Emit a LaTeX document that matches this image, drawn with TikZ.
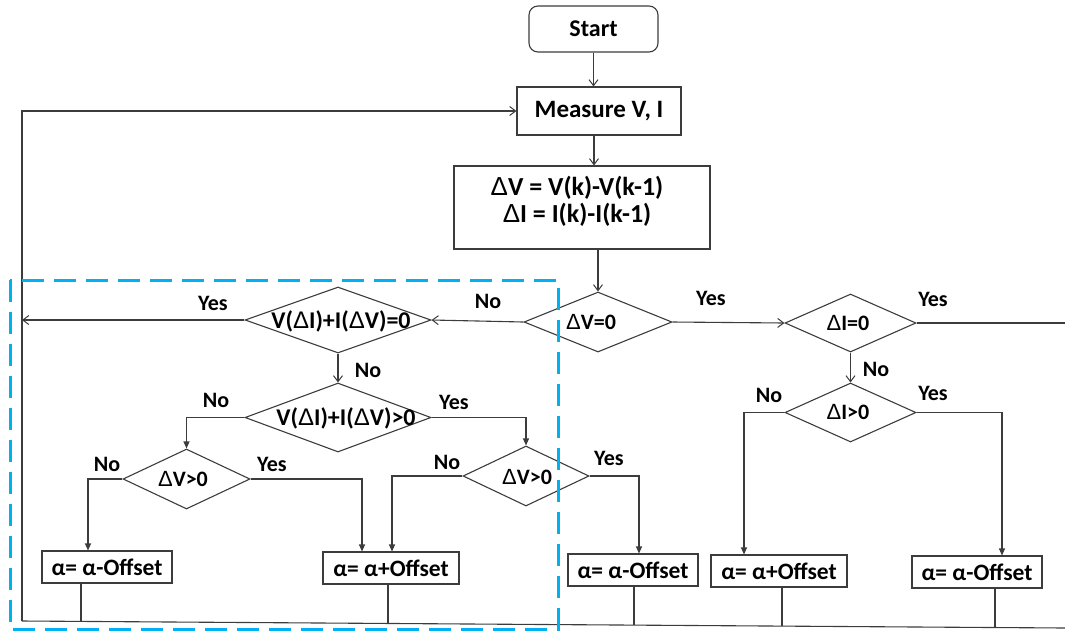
\documentclass[tikz,border=0pt]{standalone}
\usepackage{fontspec}
\setmainfont{Carlito}
\newfontfamily\libsans{Liberation Sans}
\usetikzlibrary{arrows.meta,shapes.geometric}
\newcommand\DLT{{\libsans\mdseries Δ}}
\definecolor{cyanline}{RGB}{0,176,240}
\definecolor{lncol}{RGB}{60,60,60}
\begin{document}
\begin{tikzpicture}[x=1pt,y=-1pt,
  line/.style={draw=lncol, line width=1.1pt},
  oarr/.style={line, -{Straight Barb[length=6pt,width=9pt,line width=1pt]}},
  farr/.style={line, -{Triangle[length=7pt,width=6pt]}},
  proc/.style={line, rectangle, inner sep=0pt},
  dec/.style={line, diamond, inner sep=0pt},
  txt/.style={inner sep=0pt, font=\bfseries\fontsize{#1}{#1}\selectfont},
  txt/.default=22,
  yn/.style={inner sep=0pt, font=\bfseries\fontsize{22}{24}\selectfont},
  abox/.style={proc, minimum height=32pt, font=\bfseries\fontsize{23.5}{26}\selectfont},
]
\useasboundingbox (0,0) rectangle (1065,633);

% top blocks
\node[proc, rounded corners=9pt, minimum width=129pt, minimum height=46pt,
      font=\bfseries\fontsize{24}{26}\selectfont] (start) at (593.5,29) {Start};
\node[proc, minimum width=164pt, minimum height=48pt,
      font=\bfseries\fontsize{25}{28}\selectfont] (meas) at (599,111) {Measure V, I};
\node[proc, minimum width=256pt, minimum height=83pt] (dvbox) at (582,207.5) {};
\node[inner sep=0pt, align=center, font=\bfseries\fontsize{26}{27}\selectfont] (dvtext) at (577,201)
  {\DLT V = V(k)-V(k-1)\\ \DLT I = I(k)-I(k-1)};

% decisions
\node[dec, minimum width=148pt, minimum height=60pt] (dv0) at (598,322) {};
\node[txt] (dv0t) at (591,322) {\DLT V=0};
\node[dec, minimum width=186pt, minimum height=66pt] (s0) at (338,320) {};
\node[txt=24] (s0t) at (341,321) {V(\DLT I)+I(\DLT V)=0};
\node[dec, minimum width=186pt, minimum height=69pt] (s1) at (338,417.5) {};
\node[txt=24] (s1t) at (346,418) {V(\DLT I)+I(\DLT V)>0};
\node[dec, minimum width=127pt, minimum height=60pt] (dvl) at (186.5,479) {};
\node[txt] (dvlt) at (183,479) {\DLT V>0};
\node[dec, minimum width=126pt, minimum height=60pt] (dvr) at (526,476) {};
\node[txt] (dvrt) at (527,477) {\DLT V>0};
\node[dec, minimum width=131pt, minimum height=58pt] (di0) at (850.5,323) {};
\node[txt] (di0t) at (848,323) {\DLT I=0};
\node[dec, minimum width=131pt, minimum height=59pt] (di1) at (850.5,412.5) {};
\node[txt] (di1t) at (848,412) {\DLT I>0};

% result boxes
\node[abox, minimum width=130pt] (b1) at (107,567) {α= α-Offset};
\node[abox, minimum width=136pt] (b2) at (391,568) {α= α+Offset};
\node[abox, minimum width=130pt] (b3) at (633,570) {α= α-Offset};
\node[abox, minimum width=136pt] (b4) at (779,571) {α= α+Offset};
\node[abox, minimum width=130pt] (b5) at (977,572) {α= α-Offset};

% feedback coordinates
\coordinate (bl) at (22,621);
\coordinate (br) at (1066,628);
\coordinate (fbY) at (22,320);
\coordinate (c1) at (81,621.4);
\coordinate (c2) at (388,623.5);
\coordinate (c3) at (634,625.1);
\coordinate (c4) at (782,626.1);
\coordinate (c5) at (995,627.5);
\coordinate (rc) at (1068,631);

% connectors
\draw[oarr] (start.south) -- (start.south |- meas.north);
\draw[oarr] ([xshift=-5pt]meas.south) -- ([xshift=-5pt]meas.south |- dvbox.north);
\draw[oarr] (dv0.north |- dvbox.south) -- (dv0.north);
\draw[oarr] (dv0.west) -- (s0.east);
\draw[oarr] (dv0.east) -- (di0.west);
\draw[oarr] (s0.west) -- (fbY);
\draw[oarr] (s0.south) -- (s1.north);
\draw[farr] (s1.west) -| (dvl.north);
\draw[farr] (s1.east) -| (dvr.north);
\draw[farr] (dvl.west) -| ([xshift=-19pt]b1.north);
\draw[farr] (dvl.east) -| ([xshift=-29pt]b2.north);
\draw[farr] (dvr.west) -| ([xshift=1pt]b2.north);
\draw[farr] (dvr.east) -| ([xshift=6pt]b3.north);
\draw[oarr] (di0.south) -- (di1.north);
\draw[farr] (di0.east) -| (rc);
\draw[farr] (di1.west) -| ([xshift=-35pt]b4.north);
\draw[farr] (di1.east) -| ([xshift=25pt]b5.north);

\draw[line] (c1 |- b1.south) -- (c1);
\draw[line] (c2 |- b2.south) -- (c2);
\draw[line] (c3 |- b3.south) -- (c3);
\draw[line] (c4 |- b4.south) -- (c4);
\draw[line] (c5 |- b5.south) -- (c5);
\draw[line] (br) -- (bl);
\draw[oarr] (bl) |- (meas.west);

% labels
\node[yn] (l1) at (488,301) {No};
\node[yn] (l2) at (711,298) {Yes};
\node[yn] (l3) at (213,303) {Yes};
\node[yn] (l4) at (368,370) {No};
\node[yn] (l5) at (216,400) {No};
\node[yn] (l6) at (454,402) {Yes};
\node[yn] (l7) at (107,464) {No};
\node[yn] (l8) at (272,464) {Yes};
\node[yn] (l9) at (447,462) {No};
\node[yn] (l10) at (609,458) {Yes};
\node[yn] (l11) at (876,369) {No};
\node[yn] (l12) at (933,299) {Yes};
\node[yn] (l13) at (769,395) {No};
\node[yn] (l14) at (933,393) {Yes};

% dashed frame
\draw[cyanline, line width=3pt, dash pattern=on 22pt off 10pt] (10,280) rectangle (558,629);
\end{tikzpicture}
\end{document}
